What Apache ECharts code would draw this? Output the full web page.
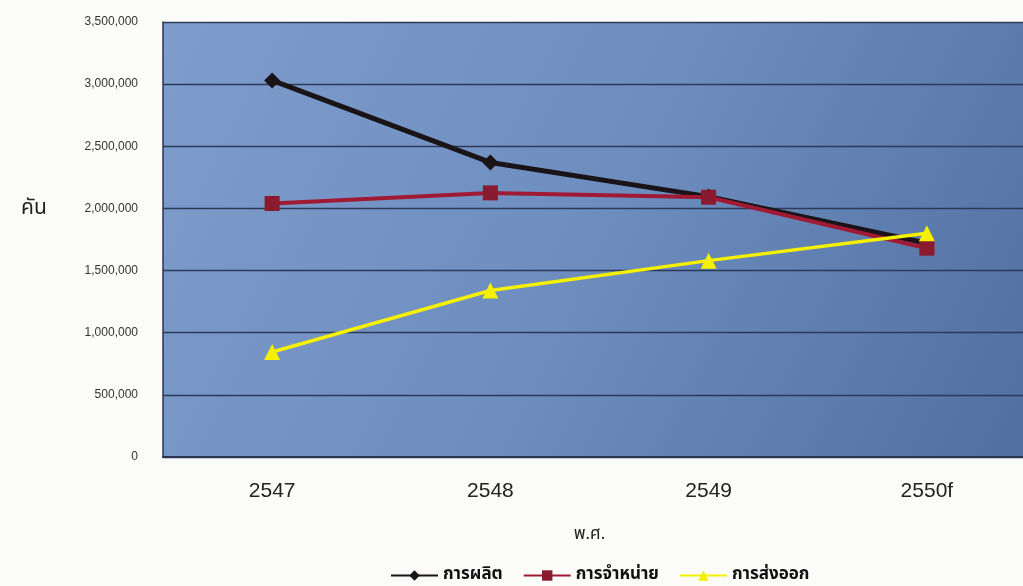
<!DOCTYPE html>
<html><head><meta charset="utf-8">
<script src="https://cdn.jsdelivr.net/npm/echarts@6/dist/echarts.min.js"></script>
<style>html,body{margin:0;padding:0;background:#fbfbfa;overflow:hidden}#c{width:1036px;height:586px}</style>
</head><body><div id="c"></div>
<script>
const categories = ['2547', '2548', '2549', '2550f'];
const production = [3030000, 2370000, 2095000, 1720000];
const sales = [2040000, 2125000, 2090000, 1680000];
const exportsData = [845000, 1340000, 1580000, 1800000];
const yTicks = [0, 500000, 1000000, 1500000, 2000000, 2500000, 3000000, 3500000];

const chart = echarts.init(document.getElementById('c'));
const font = "'Noto Sans Thai','Noto Sans',Arial,sans-serif";
chart.setOption({
  backgroundColor: '#fbfbfa',
  animation: false,
  title: {
    text: 'คัน', left: 16, top: 194,
    textStyle: {fontFamily: font, fontSize: 21, fontWeight: 'normal', color: '#222'}
  },
  grid: {
    left: 163, top: 22, bottom: 129, right: 0,
    show: true, borderWidth: 0,
    backgroundColor: new echarts.graphic.LinearGradient(0, 0, 1, 1, [
      {offset: 0, color: '#7e9dcc'},
      {offset: 0.5, color: '#6d8dbf'},
      {offset: 1, color: '#506f9f'}
    ])
  },
  legend: {
    top: 562, left: 385,
    itemWidth: 47, itemHeight: 13, itemGap: 20,
    textStyle: {fontFamily: font, fontSize: 17, fontWeight: 'bold', color: '#111'},
    data: ['การผลิต', 'การจำหน่าย', 'การส่งออก']
  },
  xAxis: {
    type: 'category', data: categories, boundaryGap: true,
    name: 'พ.ศ.', nameLocation: 'middle', nameGap: 70,
    nameTextStyle: {fontFamily: font, fontSize: 17, color: '#222', padding: [0, 0, 0, -20]},
    axisLine: {lineStyle: {color: '#2a3550', width: 2}},
    axisTick: {show: false},
    axisLabel: {fontFamily: 'Arial, sans-serif', fontSize: 21, color: '#222', margin: 24}
  },
  yAxis: {
    type: 'value', min: 0, max: 3500000, interval: 500000,
    axisLine: {show: true, lineStyle: {color: '#2a3550', width: 1.5}},
    axisTick: {show: false},
    axisLabel: {fontFamily: 'Arial, sans-serif', fontSize: 12, color: '#333', margin: 25,
      formatter: v => v.toLocaleString('en-US')},
    splitLine: {lineStyle: {color: '#2c3a58', width: 1.3}}
  },
  series: [
    {name: 'การผลิต', type: 'line', data: production, symbol: 'diamond', symbolSize: 16,
      itemStyle: {color: '#1a1418'}, lineStyle: {color: '#1a1418', width: 5}},
    {name: 'การจำหน่าย', type: 'line', data: sales, symbol: 'rect', symbolSize: 15,
      itemStyle: {color: '#8a1a2e'}, lineStyle: {color: '#a01a34', width: 4}},
    {name: 'การส่งออก', type: 'line', data: exportsData, symbol: 'triangle', symbolSize: 16,
      itemStyle: {color: '#f5f000'}, lineStyle: {color: '#f5ef00', width: 3.5}}
  ]
});
</script></body></html>
